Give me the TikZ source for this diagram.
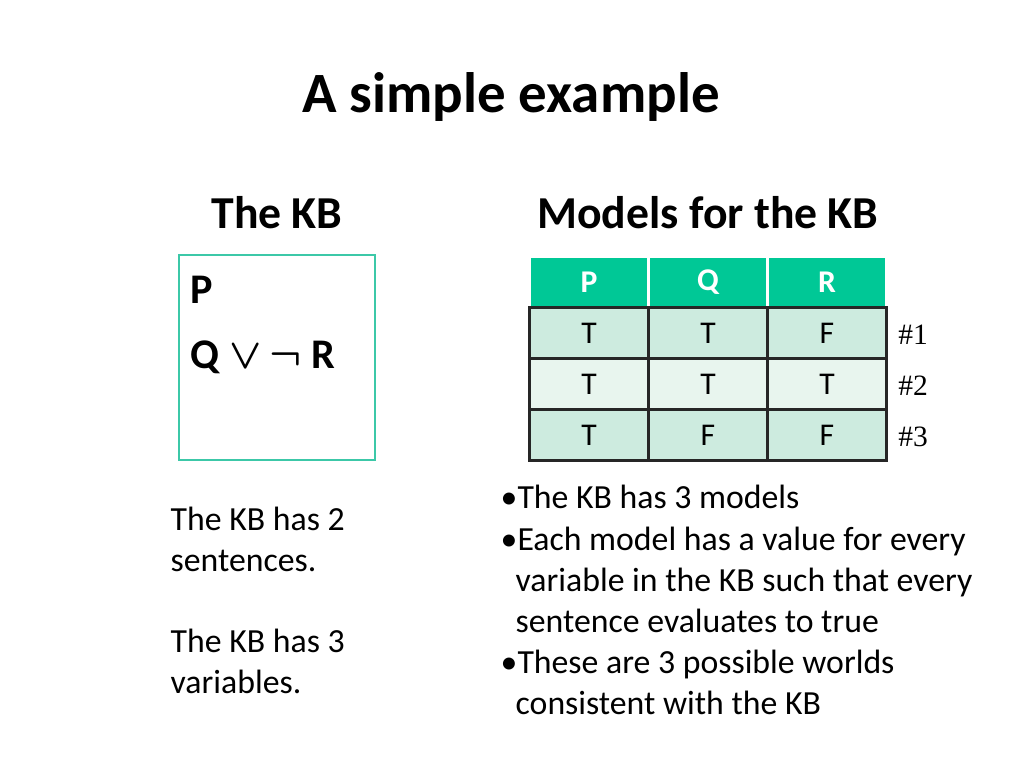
\documentclass[tikz,border=0pt]{standalone}
\usepackage{fontspec}
\setmainfont{Carlito}
\newfontfamily\serifnum{Liberation Serif}
\usetikzlibrary{positioning}
\definecolor{headgreen}{HTML}{00C896}
\definecolor{rowdark}{HTML}{CDEBDF}
\definecolor{rowlight}{HTML}{E8F5EE}
\definecolor{boxteal}{HTML}{3CC8A8}
\newlength\pxu
\setlength\pxu{0.01cm}
\tikzstyle{txt} = [anchor=base west, inner sep=0pt, font=\fontsize{9.6}{11}\selectfont]
\tikzstyle{head} = [fill=headgreen, draw=white, line width=0.6pt, minimum width=119\pxu, minimum height=51\pxu, text=white, font=\fontsize{9}{10}\selectfont\bfseries]
\tikzstyle{cell} = [draw=black!85, line width=0.6pt, minimum width=119\pxu, minimum height=51\pxu, font=\fontsize{9}{10}\selectfont]

\begin{document}
\begin{tikzpicture}[x=0.01cm, y=-0.01cm]
        % page frame
        \useasboundingbox (0,0) rectangle (1024,768);
        % titles
        \node (title) at (511,97) {\fontsize{16.2}{19}\selectfont\bfseries A simple example};
        \node (kbhead) at (277,213) {\fontsize{13}{15}\selectfont\bfseries The KB};
        \node (modhead) at (708,213) {\fontsize{13}{15}\selectfont\bfseries Models for the KB};
        % the KB box
        \draw [boxteal, line width=0.5pt] (179,255) rectangle (375,460);
        \node [txt, font=\fontsize{12}{14}\selectfont\bfseries] (p) at (190,304) {P};
        \node [txt, font=\fontsize{12}{14}\selectfont\bfseries\boldmath] (qr) at (190,369) {Q $\vee\,\neg$ R};
        % table of models
        \foreach \name [count=\i] in {P,Q,R}
            \node [head] (h\i) at (470+119*\i,282) {\name};
        \foreach \a/\b/\c/\fillc [count=\r] in {T/T/F/rowdark, T/T/T/rowlight, T/F/F/rowdark} {
            \node [cell, fill=\fillc] (c\r1) at (589,282+51*\r) {\a};
            \node [cell, fill=\fillc] (c\r2) at (708,282+51*\r) {\b};
            \node [cell, fill=\fillc] (c\r3) at (827,282+51*\r) {\c};
            \node [right=10\pxu of c\r3, yshift=-2\pxu, inner sep=0pt, font=\serifnum\fontsize{8.4}{10}\selectfont] (n\r) {\#\r};
        }
        % left notes
        \node [txt] (l1) at (170,531) {The KB has 2};
        \node [txt] (l2) at (170,572) {sentences.};
        \node [txt] (l3) at (170,653) {The KB has 3};
        \node [txt] (l4) at (170,694) {variables.};
        % bullet notes
        \node [txt] (b1) at (500,509) {\textbullet The KB has 3 models};
        \node [txt] (b2) at (500,551) {\textbullet Each model has a value for every};
        \node [txt] (b3) at (515,592) {variable in the KB such that every};
        \node [txt] (b4) at (515,633) {sentence evaluates to true};
        \node [txt] (b5) at (500,674) {\textbullet These are 3 possible worlds};
        \node [txt] (b6) at (515,715) {consistent with the KB};
\end{tikzpicture}
\end{document}
